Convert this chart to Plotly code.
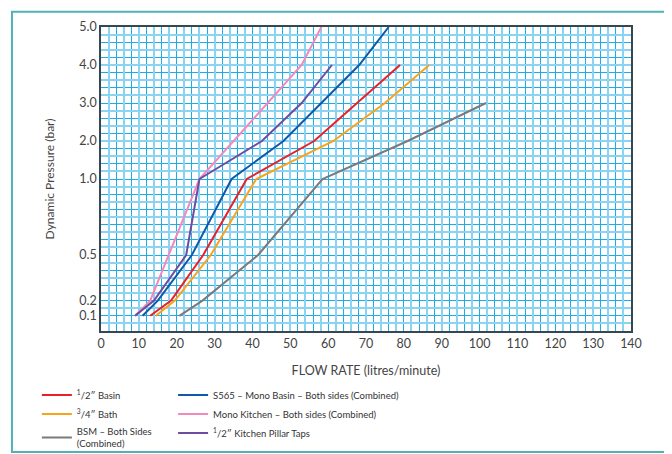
import numpy as np
import plotly.graph_objects as go

# ---- data (flow in litres/minute, pressure in bar) ----
basin_flow = [13, 18.5, 27, 38.5, 56.3, 79]
basin_pres = [0.1, 0.2, 0.5, 1.0, 2.0, 4.0]

bath_flow = [14.5, 19.5, 29, 41, 61.4, 75, 86.7]
bath_pres = [0.1, 0.2, 0.5, 1.0, 2.0, 3.0, 4.0]

bsm_flow = [20.7, 26.8, 41.5, 58.5, 81, 101.7]
bsm_pres = [0.1, 0.2, 0.5, 1.0, 2.0, 3.0]

s565_flow = [11, 15, 24, 34.5, 48.2, 68.2, 76]
s565_pres = [0.1, 0.2, 0.5, 1.0, 2.0, 4.0, 5.0]

mono_flow = [9, 13, 26, 53, 58.2]
mono_pres = [0.1, 0.2, 1.0, 4.0, 5.0]

pillar_flow = [9, 14, 22.5, 26, 42.5, 53, 61]
pillar_pres = [0.1, 0.2, 0.5, 1.0, 2.0, 3.0, 4.0]

y_ticks = [0.1, 0.2, 0.5, 1.0, 2.0, 3.0, 4.0, 5.0]
y_tick_text = ["0.1", "0.2", "0.5", "1.0", "2.0", "3.0", "4.0", "5.0"]
x_ticks = list(range(0, 141, 10))


def scale(p):
    """Chart's piecewise pressure scale (expanded below 1 bar)."""
    p = np.asarray(p, dtype=float)
    return np.where(p <= 1, 20 * p, 20 + 5 * (p - 1))


series = [
    ("<sup>1</sup>/2\u2033 Basin", basin_flow, basin_pres, "#e8202a", "legend"),
    ("<sup>3</sup>/4\u2033 Bath", bath_flow, bath_pres, "#f9a31b", "legend"),
    ("BSM \u2013 Both Sides<br>(Combined)", bsm_flow, bsm_pres, "#7a7a7a", "legend"),
    ("S565 \u2013 Mono Basin \u2013 Both sides (Combined)", s565_flow, s565_pres, "#1059a8", "legend2"),
    ("Mono Kitchen \u2013 Both sides (Combined)", mono_flow, mono_pres, "#f389ba", "legend2"),
    ("<sup>1</sup>/2\u2033 Kitchen Pillar Taps", pillar_flow, pillar_pres, "#6e4d9f", "legend2"),
]

fig = go.Figure()

# dummy traces so grid overlay axes exist
fig.add_trace(go.Scatter(x=[None], y=[None], xaxis="x2", yaxis="y2", showlegend=False, hoverinfo="skip"))
fig.add_trace(go.Scatter(x=[None], y=[None], xaxis="x3", yaxis="y3", showlegend=False, hoverinfo="skip"))

for name, fx, fp, col, lg in series:
    fig.add_trace(go.Scatter(
        x=fx, y=scale(fp), mode="lines", name=name,
        line=dict(color=col, width=2), legend=lg,
    ))

XR = [0, 140]
YR = [0, 40]
dark = "#1cacE8"
light = "#8ad3f3"
font = "Lato, 'Open Sans', sans-serif"

leg_common = dict(yanchor="top", xanchor="left", orientation="v",
                  font=dict(size=9.5, color="#333333"), tracegroupgap=0, itemwidth=30,
                  bgcolor="rgba(0,0,0,0)", borderwidth=0)

# page body has an 8px margin, so the figure is sized to the visible area
fig.update_layout(
    width=664, height=446,
    margin=dict(l=93, r=41, t=19, b=123, autoexpand=False),
    paper_bgcolor="white", plot_bgcolor="white",
    font=dict(family=font, color="#444444"),
    xaxis=dict(range=XR, tickvals=x_ticks, showgrid=False, zeroline=False,
               showline=True, mirror=True, linecolor="#37474f", linewidth=1.5,
               ticks="", tickfont=dict(size=12.5, color="#444444"),
               title=dict(text="FLOW RATE (litres/minute)", font=dict(size=12.5, color="#444444"), standoff=16),
               layer="above traces"),
    yaxis=dict(range=YR, tickvals=scale(y_ticks).tolist(), ticktext=y_tick_text,
               showgrid=False, zeroline=False, showline=True, mirror=True,
               linecolor="#37474f", linewidth=1.5, ticks="",
               tickfont=dict(size=12.5, color="#444444"),
               title=dict(text="Dynamic Pressure (bar)", font=dict(size=12, color="#444444"), standoff=22),
               layer="above traces"),
    xaxis2=dict(range=XR, overlaying="x", anchor="y", tickvals=list(range(0, 141, 4)),
                showticklabels=False, showgrid=True, gridcolor=dark, gridwidth=1,
                zeroline=False, showline=False, ticks=""),
    yaxis2=dict(range=YR, overlaying="y", anchor="x", tickvals=list(range(0, 41, 2)),
                showticklabels=False, showgrid=True, gridcolor=dark, gridwidth=1,
                zeroline=False, showline=False, ticks=""),
    xaxis3=dict(range=XR, overlaying="x", anchor="y", tickvals=list(range(2, 141, 4)),
                showticklabels=False, showgrid=True, gridcolor=light, gridwidth=2.4,
                zeroline=False, showline=False, ticks=""),
    yaxis3=dict(range=YR, overlaying="y", anchor="x", tickvals=list(range(1, 41, 2)),
                showticklabels=False, showgrid=True, gridcolor=light, gridwidth=2.4,
                zeroline=False, showline=False, ticks=""),
    legend=dict(x=-0.121, y=-0.163, **leg_common),
    legend2=dict(x=0.136, y=-0.163, **leg_common),
    shapes=[dict(type="rect", xref="paper", yref="paper",
                 x0=-0.168, x1=1.0698, y0=-0.398, y1=1.05,
                 line=dict(color="#4fb3b5", width=2), fillcolor="rgba(0,0,0,0)",
                 layer="below")],
    showlegend=True,
)

fig.write_html("out.html")
